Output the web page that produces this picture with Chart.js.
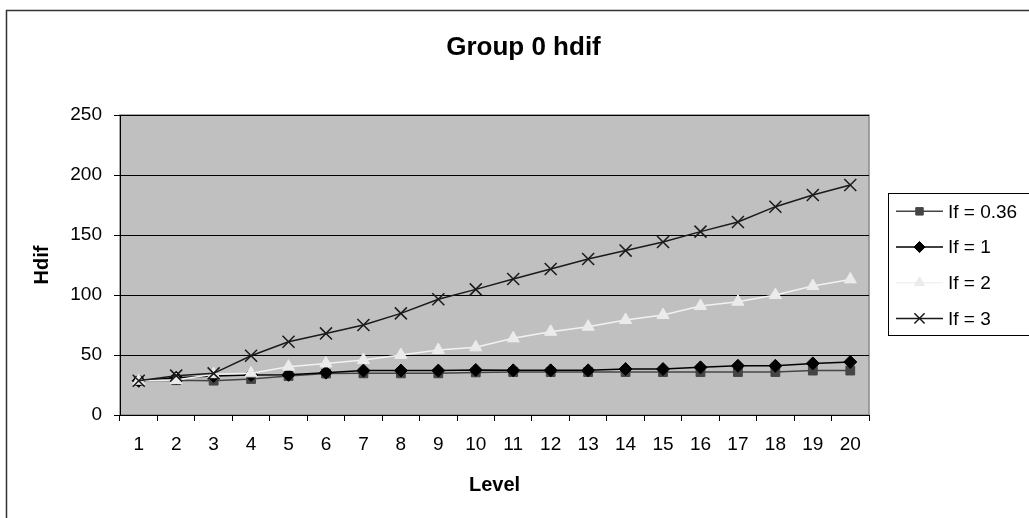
<!DOCTYPE html>
<html>
<head>
<meta charset="utf-8">
<title>Group 0 hdif</title>
<style>
  html, body { margin: 0; padding: 0; background: #ffffff; }
  #wrap { position: relative; width: 1029px; height: 518px; }
</style>
<script src="https://cdn.jsdelivr.net/npm/chart.js@4.4.0/dist/chart.umd.min.js"></script>
</head>
<body>
<div id="wrap"><canvas id="chart" width="1029" height="518"></canvas></div>
<script>
// Levels on the x axis
const levels = ['1','2','3','4','5','6','7','8','9','10','11','12','13','14','15','16','17','18','19','20'];

// Hdif per level for each If setting
const hdifIf036 = [28.5, 29, 28.6, 30, 32.5, 34.5, 34.7, 34.7, 34.7, 35.5, 35.8, 35.8, 35.8, 35.8, 35.8, 35.8, 35.8, 35.8, 37, 37];
const hdifIf1   = [28.5, 31, 32.5, 33.3, 33.5, 35.3, 37, 37, 37, 37.5, 37.2, 37.2, 37.2, 38.3, 38.3, 39.7, 41, 41, 43, 44.2];
const hdifIf2   = [28.5, 29.2, 34, 34.7, 40.3, 43, 45.8, 50, 54.2, 56.4, 63.9, 69.4, 73.6, 79.2, 83.3, 90.8, 94.4, 100, 107.5, 113];
const hdifIf3   = [28.6, 32.8, 34.7, 49.4, 61.1, 68, 75, 84.7, 96.4, 104.7, 113.3, 121.7, 130, 137, 144.2, 152.8, 160.8, 173.6, 183.3, 191.7];

const seriesNames = ['If = 0.36', 'If = 1', 'If = 2', 'If = 3'];
const yTicks = [0, 50, 100, 150, 200, 250];

const FONT = '"Liberation Sans", Arial, Helvetica, sans-serif';

// Page frame, chart title and grey plot background
const framePlugin = {
  id: 'frame',
  beforeDraw(chart) {
    const { ctx, chartArea: a } = chart;
    ctx.save();
    ctx.fillStyle = '#ffffff';
    ctx.fillRect(0, 0, chart.width, chart.height);
    ctx.strokeStyle = '#333333';
    ctx.lineWidth = 1.5;
    ctx.strokeRect(6.5, 10.5, 1100, 600);
    ctx.fillStyle = '#c0c0c0';
    ctx.fillRect(a.left, a.top, a.right - a.left, a.bottom - a.top);
    ctx.strokeStyle = '#8a8a8a';
    ctx.lineWidth = 1.5;
    ctx.strokeRect(a.left, a.top, a.right - a.left, a.bottom - a.top);
    ctx.fillStyle = '#000000';
    ctx.font = 'bold 26px ' + FONT;
    ctx.textAlign = 'center';
    ctx.textBaseline = 'alphabetic';
    ctx.fillText('Group 0 hdif', 523.5, 55);
    ctx.restore();
  }
};

// Boxed legend on the right, line sample with marker for each series
const boxLegendPlugin = {
  id: 'boxLegend',
  afterDraw(chart) {
    const { ctx } = chart;
    const box = { x: 888.5, y: 193.5, w: 200, h: 142 };
    ctx.save();
    ctx.fillStyle = '#ffffff';
    ctx.fillRect(box.x, box.y, box.w, box.h);
    ctx.strokeStyle = '#000000';
    ctx.lineWidth = 1;
    ctx.strokeRect(box.x, box.y, box.w, box.h);
    const rowH = 35.7;
    chart.data.datasets.forEach((ds, i) => {
      const y = box.y + rowH / 2 + i * rowH;
      ctx.strokeStyle = ds.borderColor;
      ctx.lineWidth = ds.borderWidth;
      ctx.beginPath();
      ctx.moveTo(896, y);
      ctx.lineTo(943, y);
      ctx.stroke();
      ctx.fillStyle = ds.pointBackgroundColor;
      ctx.strokeStyle = ds.pointBorderColor;
      ctx.lineWidth = ds.pointBorderWidth;
      Chart.helpers.drawPoint(ctx, {
        pointStyle: ds.pointStyle,
        rotation: 0,
        radius: ds.pointRadius * 0.85,
        borderWidth: ds.pointBorderWidth
      }, 919.5, y);
      ctx.fillStyle = '#000000';
      ctx.font = '19px ' + FONT;
      ctx.textAlign = 'left';
      ctx.textBaseline = 'middle';
      ctx.fillText(ds.label, 948, y + 1);
    });
    ctx.restore();
  }
};

const datasets = [
  {
    label: seriesNames[0], data: hdifIf036, order: 3,
    borderColor: '#454545', borderWidth: 1.5,
    pointStyle: 'rect', pointRadius: 6.2,
    pointBackgroundColor: '#454545', pointBorderColor: '#454545', pointBorderWidth: 1
  },
  {
    label: seriesNames[1], data: hdifIf1, order: 2,
    borderColor: '#000000', borderWidth: 1.5,
    pointStyle: 'rectRot', pointRadius: 6.5,
    pointBackgroundColor: '#000000', pointBorderColor: '#000000', pointBorderWidth: 1
  },
  {
    label: seriesNames[2], data: hdifIf2, order: 1,
    borderColor: '#f2f2f2', borderWidth: 1.5,
    pointStyle: 'triangle', pointRadius: 7,
    pointBackgroundColor: '#ebebeb', pointBorderColor: '#ebebeb', pointBorderWidth: 1
  },
  {
    label: seriesNames[3], data: hdifIf3, order: 0,
    borderColor: '#1a1a1a', borderWidth: 1.5,
    pointStyle: 'crossRot', pointRadius: 8.5,
    pointBackgroundColor: '#1a1a1a', pointBorderColor: '#1a1a1a', pointBorderWidth: 1.5
  }
];

new Chart(document.getElementById('chart'), {
  type: 'line',
  data: { labels: levels, datasets: datasets },
  options: {
    responsive: false,
    animation: false,
    devicePixelRatio: 1,
    layout: { padding: { top: 115, left: 0, right: 160, bottom: 0 } },
    elements: { line: { tension: 0 } },
    plugins: {
      legend: { display: false },
      title: { display: false },
      tooltip: { enabled: false }
    },
    scales: {
      x: {
        type: 'category',
        offset: true,
        grid: { offset: true, drawOnChartArea: false, drawTicks: true, tickLength: 6, color: '#000000', lineWidth: 1 },
        border: { display: true, color: '#000000', width: 1 },
        ticks: { autoSkip: false, maxRotation: 0, minRotation: 0, padding: 12, color: '#000000', font: { family: FONT, size: 19 } },
        title: { display: true, text: 'Level', color: '#000000', font: { family: FONT, size: 20, weight: 'bold' }, padding: { top: 0, bottom: 21 } },
        afterFit(scale) { scale.height = 103; }
      },
      y: {
        min: 0, max: 250,
        afterBuildTicks(scale) { scale.ticks = yTicks.map(v => ({ value: v })); },
        grid: { drawOnChartArea: true, drawTicks: true, tickLength: 6, color: '#000000', lineWidth: 1 },
        border: { display: true, color: '#000000', width: 1 },
        ticks: { padding: 12, color: '#000000', font: { family: FONT, size: 19 } },
        title: { display: true, text: 'Hdif', color: '#000000', font: { family: FONT, size: 20, weight: 'bold' }, padding: { top: 30, bottom: 0 } },
        afterFit(scale) { scale.width = 120; }
      }
    }
  },
  plugins: [framePlugin, boxLegendPlugin]
});
</script>
</body>
</html>
